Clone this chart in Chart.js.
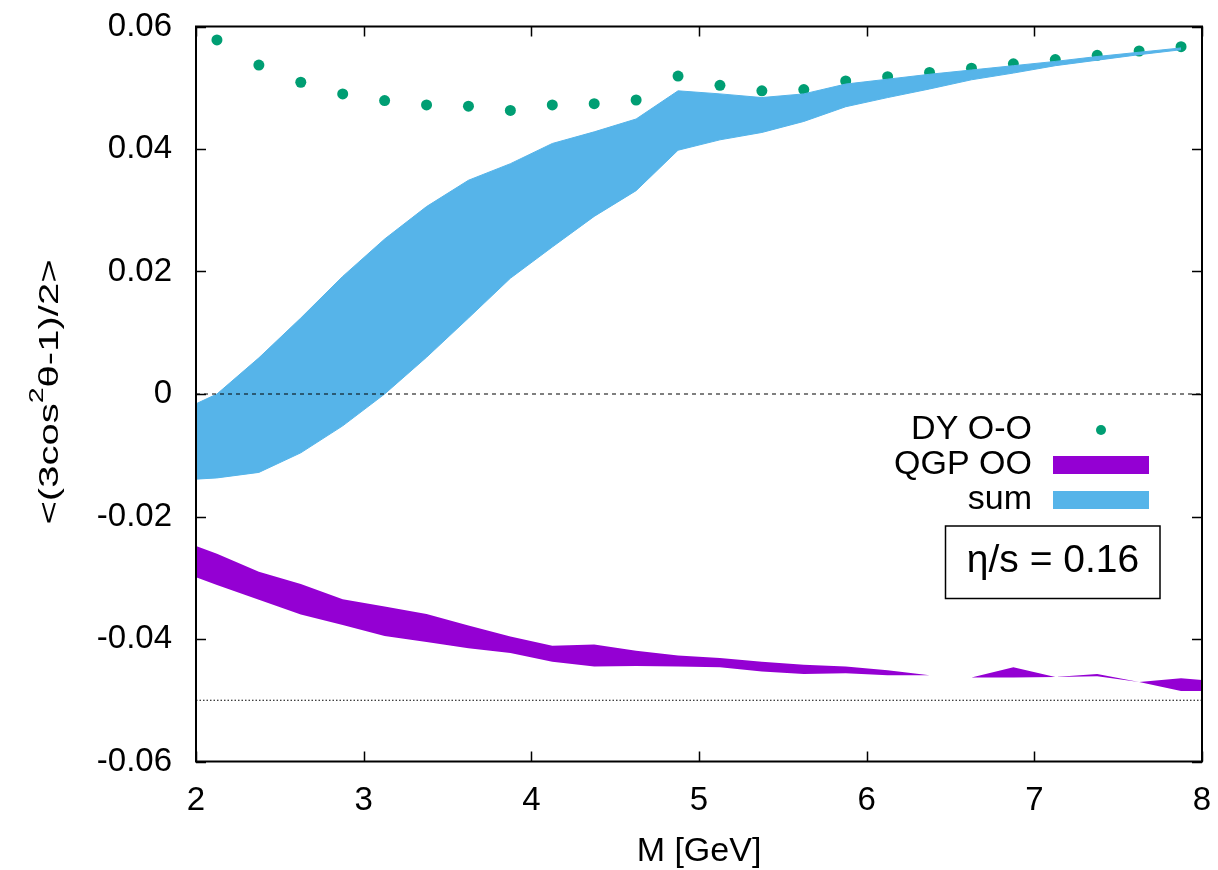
<!DOCTYPE html>
<html>
<head>
<meta charset="utf-8">
<script src="https://cdn.jsdelivr.net/npm/chart.js@4.4.1/dist/chart.umd.min.js"></script>
<style>
  html, body { margin: 0; padding: 0; background: #fff; }
  #wrap { width: 1218px; height: 870px; }
</style>
</head>
<body>
<div id="wrap"><canvas id="polChart" width="1218" height="870"></canvas></div>
<script>
// ---- data ----
const dyMass = [2.125, 2.375, 2.625, 2.875, 3.125, 3.375, 3.625, 3.875, 4.125, 4.375, 4.625, 4.875,
                5.125, 5.375, 5.625, 5.875, 6.125, 6.375, 6.625, 6.875, 7.125, 7.375, 7.625, 7.875];
const dyValues = [0.0578, 0.0537, 0.0509, 0.0490, 0.0479, 0.0472, 0.0470, 0.0463, 0.0472, 0.0474, 0.0480, 0.0519,
                  0.0504, 0.0495, 0.0497, 0.0511, 0.0518, 0.0525, 0.0532, 0.0539, 0.0546, 0.0553, 0.0560, 0.0567];

// sum band (upper / lower edge)
const sumMass = [2.0, 2.125, 2.375, 2.625, 2.875, 3.125, 3.375, 3.625, 3.875, 4.125, 4.375, 4.625, 4.875,
                 5.125, 5.375, 5.625, 5.875, 6.125, 6.375, 6.625, 6.875, 7.125, 7.375, 7.625, 7.875];
const sumUpper = [-0.0016, 0.0000, 0.0059, 0.0124, 0.0192, 0.0253, 0.0306, 0.0349, 0.0376, 0.0409, 0.0428, 0.0449, 0.0495,
                  0.0490, 0.0484, 0.0490, 0.0506, 0.0514, 0.0522, 0.0529, 0.0536, 0.0543, 0.0551, 0.0558, 0.0565];
const sumLower = [-0.0139, -0.0137, -0.0128, -0.0096, -0.0052, 0.0000, 0.0060, 0.0124, 0.0189, 0.0240, 0.0290, 0.0332, 0.0398,
                  0.0415, 0.0427, 0.0445, 0.0469, 0.0484, 0.0498, 0.0513, 0.0524, 0.0536, 0.0545, 0.0554, 0.0562];

// QGP OO band (upper / lower edge)
const qgpMass = [2.0, 2.125, 2.375, 2.625, 2.875, 3.125, 3.375, 3.625, 3.875, 4.125, 4.375, 4.625, 4.875,
                 5.125, 5.375, 5.625, 5.875, 6.125, 6.375, 6.625, 6.875, 7.125, 7.375, 7.625, 7.875, 8.0];
const qgpUpper = [-0.0248, -0.0261, -0.0290, -0.0310, -0.0335, -0.0347, -0.0359, -0.0378, -0.0396, -0.0411, -0.0409, -0.0419, -0.0427,
                  -0.0431, -0.0437, -0.0442, -0.0445, -0.0451, -0.0459, -0.0463, -0.0446, -0.0462, -0.0457, -0.0470, -0.0464, -0.0467];
const qgpLower = [-0.0299, -0.0312, -0.0336, -0.0360, -0.0377, -0.0395, -0.0405, -0.0415, -0.0423, -0.0437, -0.0445, -0.0444, -0.0445,
                  -0.0446, -0.0453, -0.0457, -0.0456, -0.0459, -0.0459, -0.0463, -0.0463, -0.0462, -0.0461, -0.0470, -0.0485, -0.0485];

const xTicks = [2, 3, 4, 5, 6, 7, 8];
const yTicks = [-0.06, -0.04, -0.02, 0, 0.02, 0.04, 0.06];
const yTickLabels = ['-0.06', '-0.04', '-0.02', '0', '0.02', '0.04', '0.06'];
const zeroLevel = 0;
const limitLevel = -0.05;

const colors = {
    dy: '#009e73',
    qgp: '#9400d3',
    sum: '#56b4e9',
    ink: '#000000'
};
const FONT = '"Liberation Sans", Arial, sans-serif';

const pts = (xs, ys) => xs.map((x, i) => ({ x: x, y: ys[i] }));
const hline = (y) => [{ x: xTicks[0], y: y }, { x: xTicks[xTicks.length - 1], y: y }];

// frame, inward ticks, axis titles, key and label box (gnuplot look)
const gnuplotDecor = {
    id: 'gnuplotDecor',
    afterDraw(chart) {
        const ctx = chart.ctx;
        const a = chart.chartArea;
        const xs = chart.scales.x, ys = chart.scales.y;
        ctx.save();
        ctx.strokeStyle = colors.ink;

        // ticks on all four sides
        ctx.lineWidth = 1.5;
        ctx.beginPath();
        xTicks.forEach(v => {
            const px = Math.round(xs.getPixelForValue(v)) + 0.5;
            ctx.moveTo(px, a.bottom); ctx.lineTo(px, a.bottom - 10);
            ctx.moveTo(px, a.top); ctx.lineTo(px, a.top + 10);
        });
        yTicks.forEach(v => {
            const py = Math.round(ys.getPixelForValue(v)) + 0.5;
            ctx.moveTo(a.left, py); ctx.lineTo(a.left + 10, py);
            ctx.moveTo(a.right, py); ctx.lineTo(a.right - 10, py);
        });
        ctx.stroke();

        // border
        ctx.lineWidth = 2;
        ctx.strokeRect(a.left, a.top, a.right - a.left, a.bottom - a.top);

        // x title
        ctx.fillStyle = colors.ink;
        ctx.font = '34px ' + FONT;
        ctx.textAlign = 'center';
        ctx.textBaseline = 'alphabetic';
        ctx.fillText('M [GeV]', (a.left + a.right) / 2, 861);

        // y title with superscript, rotated
        ctx.save();
        ctx.translate(58, 392);
        ctx.rotate(-Math.PI / 2);
        const big = '28px ' + FONT, small = '20px ' + FONT;
        const p1 = '<(3cos', p2 = '2', p3 = '\u03b8-1)/2>';
        ctx.font = big; const w1 = ctx.measureText(p1).width, w3 = ctx.measureText(p3).width;
        ctx.font = small; const w2 = ctx.measureText(p2).width;
        const total = w1 + w2 + w3;
        ctx.scale(265 / total, 1);
        let x0 = -total / 2;
        ctx.textAlign = 'left';
        ctx.font = big; ctx.fillText(p1, x0, 0); x0 += w1;
        ctx.font = small; ctx.fillText(p2, x0, -15); x0 += w2;
        ctx.font = big; ctx.fillText(p3, x0, 0);
        ctx.restore();

        // key
        ctx.font = '34px ' + FONT;
        ctx.textAlign = 'right';
        ctx.textBaseline = 'middle';
        ctx.fillText('DY O-O', 1032, 430);
        ctx.fillText('QGP OO', 1032, 465);
        ctx.fillText('sum', 1032, 500);
        ctx.fillStyle = colors.dy;
        ctx.beginPath(); ctx.arc(1101, 430, 5, 0, Math.PI * 2); ctx.fill();
        ctx.fillStyle = colors.qgp;
        ctx.fillRect(1053, 456, 96, 18);
        ctx.fillStyle = colors.sum;
        ctx.fillRect(1053, 491, 96, 18);

        // label box
        ctx.lineWidth = 1.5;
        ctx.strokeStyle = colors.ink;
        ctx.strokeRect(945.5, 526, 214.5, 72.5);
        ctx.fillStyle = colors.ink;
        ctx.font = '39px ' + FONT;
        ctx.textAlign = 'center';
        ctx.textBaseline = 'alphabetic';
        ctx.fillText('\u03b7/s = 0.16', 1053, 572);
        ctx.restore();
    }
};

const ctx = document.getElementById('polChart').getContext('2d');
const polChart = new Chart(ctx, {
    type: 'line',
    data: {
        datasets: [
            {
                label: 'zero',
                data: hline(zeroLevel),
                borderColor: colors.ink,
                borderWidth: 1.2,
                borderDash: [4, 4],
                pointRadius: 0,
                fill: false,
                order: 0
            },
            {
                label: 'sum',
                data: pts(sumMass, sumUpper),
                borderColor: colors.sum,
                borderWidth: 1,
                backgroundColor: colors.sum,
                pointRadius: 0,
                tension: 0,
                fill: '+1',
                order: 1
            },
            {
                label: 'sum lower',
                data: pts(sumMass, sumLower),
                borderColor: colors.sum,
                borderWidth: 1,
                pointRadius: 0,
                tension: 0,
                fill: false,
                order: 1
            },
            {
                label: 'QGP OO',
                data: pts(qgpMass, qgpUpper),
                borderColor: 'rgba(0,0,0,0)',
                backgroundColor: colors.qgp,
                pointRadius: 0,
                tension: 0,
                fill: '+1',
                order: 2
            },
            {
                label: 'QGP lower',
                data: pts(qgpMass, qgpLower),
                borderColor: 'rgba(0,0,0,0)',
                pointRadius: 0,
                tension: 0,
                fill: false,
                order: 2
            },
            {
                label: 'limit',
                data: hline(limitLevel),
                borderColor: colors.ink,
                borderWidth: 1.2,
                borderDash: [1.5, 2],
                pointRadius: 0,
                fill: false,
                order: 0
            },
            {
                label: 'DY O-O',
                data: pts(dyMass, dyValues),
                showLine: false,
                pointRadius: 5.5,
                pointBackgroundColor: colors.dy,
                pointBorderWidth: 0,
                borderColor: colors.dy,
                order: 3
            }
        ]
    },
    options: {
        responsive: false,
        animation: false,
        devicePixelRatio: 1,
        layout: {
            padding: { top: 26.5, right: 16, left: 0, bottom: 0 }
        },
        plugins: {
            legend: { display: false },
            tooltip: { enabled: false }
        },
        scales: {
            x: {
                type: 'linear',
                min: 2,
                max: 8,
                grid: { display: false, drawTicks: false },
                border: { display: false },
                afterBuildTicks: s => { s.ticks = xTicks.map(v => ({ value: v })); },
                afterFit: s => {
                    s.height = 108.5;
                    s.paddingLeft = 0; s.paddingRight = 0;
                },
                ticks: {
                    color: colors.ink,
                    padding: 20,
                    maxRotation: 0,
                    font: { family: FONT, size: 33 },
                    callback: v => String(v)
                }
            },
            y: {
                type: 'linear',
                min: -0.06,
                max: 0.06,
                grid: { display: false, drawTicks: false },
                border: { display: false },
                afterBuildTicks: s => { s.ticks = yTicks.map(v => ({ value: v })); },
                afterFit: s => {
                    s.width = 196;
                    s.paddingTop = 0; s.paddingBottom = 0;
                },
                ticks: {
                    color: colors.ink,
                    padding: 24,
                    font: { family: FONT, size: 33 },
                    callback: function (value) {
                        const i = yTicks.findIndex(t => Math.abs(t - value) < 1e-9);
                        return i >= 0 ? yTickLabels[i] : '';
                    }
                }
            }
        }
    },
    plugins: [gnuplotDecor]
});
</script>
</body>
</html>
